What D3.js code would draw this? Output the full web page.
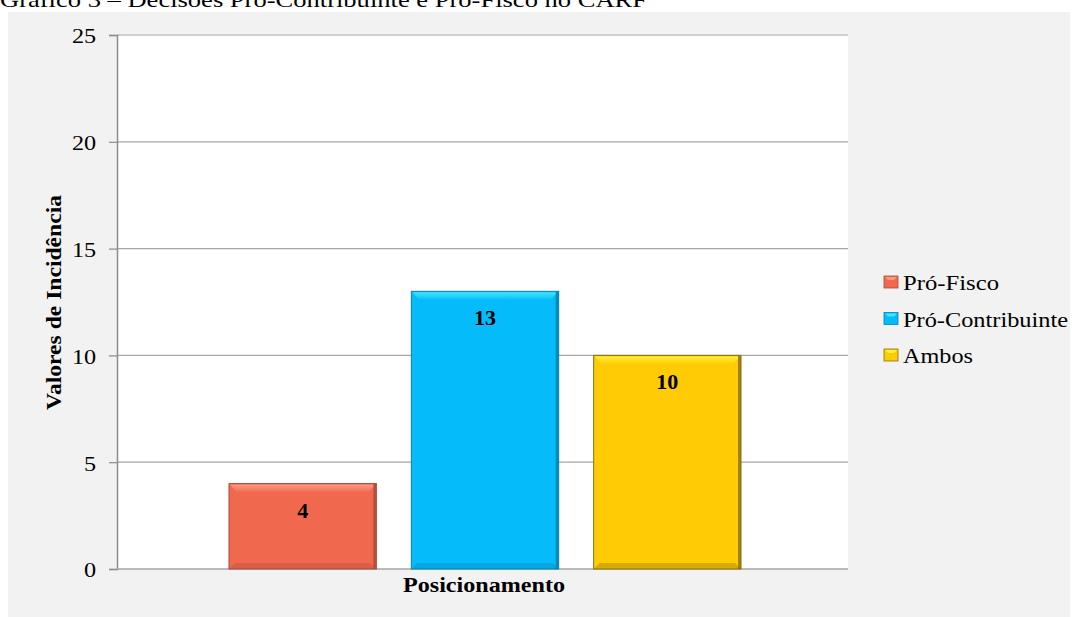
<!DOCTYPE html>
<html>
<head>
<meta charset="utf-8">
<script src="https://cdn.jsdelivr.net/npm/d3@7"></script>
<style>
  body { margin: 0; background: #fff; }
  svg { display: block; }
  svg text { font-family: "Liberation Serif", "Times New Roman", serif; }
</style>
</head>
<body>
<svg id="chart" width="1074" height="617"></svg>
<script>

var categories = ["Pró-Fisco", "Pró-Contribuinte", "Ambos"];
var values = [4, 13, 10];
var yTicks = [0, 5, 10, 15, 20, 25];
var colors = ["#f0694f", "#05bbf9", "#fecb05"];
var lightColors = ["#f99a83", "#3ee6ff", "#fff23a"];
var darkColors = ["#a84a38", "#0383ae", "#8d6f05"];

var SERIF = "Liberation Serif";
var chart = {};

function setup() {
    chart.svg = d3.select("#chart");
    chart.margin = {top: 35, left: 117};
    chart.width = 848 - 117;
    chart.height = 569 - 35;

    // background panel
    chart.svg.append("rect")
        .attr("x", 8).attr("y", 12)
        .attr("width", 1062).attr("height", 605)
        .attr("fill", "#f2f2f2");

    // title (cut at top in reference)
    chart.svg.append("text")
        .attr("x", 0).attr("y", 7)
        .attr("font-family", SERIF)
        .attr("font-size", 22)
        .attr("textLength", 647).attr("lengthAdjust", "spacingAndGlyphs")
        .attr("fill", "#000")
        .text("Gráfico 3 – Decisões Pró-Contribuinte e Pró-Fisco no CARF");

    var g = chart.svg.append("g")
        .attr("transform", `translate(${chart.margin.left},${chart.margin.top})`);

    g.append("rect")
        .attr("width", chart.width).attr("height", chart.height)
        .attr("fill", "#fff");

    chart.y = d3.scaleLinear().domain([0, 25]).range([chart.height, 0]);
    chart.x = d3.scaleBand().domain(categories)
        .range([112, 624]).paddingInner(0.192).paddingOuter(0);

    // gridlines
    g.append("g")
        .selectAll("line")
        .data(yTicks.filter(d => d > 0))
        .join("line")
        .attr("x1", 0).attr("x2", chart.width)
        .attr("y1", d => chart.y(d)).attr("y2", d => chart.y(d))
        .attr("stroke", "#a6a6a6").attr("stroke-width", 1.2);

    // y axis
    var yAxis = g.append("g")
        .call(d3.axisLeft(chart.y).tickValues(yTicks).tickSize(8).tickPadding(11));
    yAxis.select(".domain").attr("stroke", "#8c8c8c").attr("stroke-width", 1.5);
    yAxis.selectAll(".tick line").attr("stroke", "#8c8c8c").attr("stroke-width", 1.2);
    yAxis.selectAll("text")
        .attr("font-family", SERIF)
        .attr("font-size", 22)
        .attr("dy", "0.36em")
        .attr("transform", "scale(1.1,1)")
        .attr("fill", "#000");

    // bottom line
    g.append("line")
        .attr("x1", 0).attr("x2", chart.width)
        .attr("y1", chart.height).attr("y2", chart.height)
        .attr("stroke", "#a6a6a6").attr("stroke-width", 1.5);

    // gradients for the bevel look
    var defs = chart.svg.append("defs");
    categories.forEach((c, i) => {
        var lg = defs.append("linearGradient")
            .attr("id", "grad" + i)
            .attr("x1", 0).attr("y1", 0).attr("x2", 0).attr("y2", 1);
        lg.append("stop").attr("offset", "0%").attr("stop-color", lightColors[i]);
        lg.append("stop").attr("offset", "100%").attr("stop-color", colors[i]);
    });

    var bars = g.append("g")
        .selectAll("g")
        .data(categories.map((c, i) => ({name: c, value: values[i], i: i})))
        .join("g")
        .attr("transform", d => `translate(${chart.x(d.name)},${chart.y(d.value)})`);

    var bw = chart.x.bandwidth();

    bars.append("rect")
        .attr("width", bw)
        .attr("height", d => chart.height - chart.y(d.value))
        .attr("fill", d => colors[d.i]);

    // top highlight strip with slanted ends
    bars.append("path")
        .attr("d", `M1,1 H${bw - 1} L${bw - 8},9 H8 Z`)
        .attr("fill", d => `url(#grad${d.i})`);

    // bottom shade
    bars.append("path")
        .attr("d", d => {
            var h = chart.height - chart.y(d.value);
            return `M0,${h} H${bw} L${bw - 6},${h - 6} H6 Z`;
        })
        .attr("fill", d => darkColors[d.i]).attr("opacity", 0.35);

    // right edge
    bars.append("rect")
        .attr("x", bw - 3).attr("y", 0)
        .attr("width", 3)
        .attr("height", d => chart.height - chart.y(d.value))
        .attr("fill", d => darkColors[d.i]).attr("opacity", 0.8);

    bars.append("rect")
        .attr("width", bw)
        .attr("height", d => chart.height - chart.y(d.value))
        .attr("fill", "none")
        .attr("stroke", d => darkColors[d.i]).attr("stroke-width", 1);

    // value labels
    bars.append("text")
        .attr("x", bw / 2).attr("y", 34)
        .attr("text-anchor", "middle")
        .attr("font-family", SERIF)
        .attr("font-size", 22).attr("font-weight", "bold")
        .text(d => d.value);

    // axis titles
    chart.svg.append("text")
        .attr("transform", "translate(61,302.5) rotate(-90)")
        .attr("text-anchor", "middle")
        .attr("font-family", SERIF)
        .attr("font-size", 21).attr("font-weight", "bold")
        .attr("textLength", 215).attr("lengthAdjust", "spacingAndGlyphs")
        .text("Valores de Incidência");

    chart.svg.append("text")
        .attr("x", 484).attr("y", 592)
        .attr("text-anchor", "middle")
        .attr("font-family", SERIF)
        .attr("font-size", 21).attr("font-weight", "bold")
        .attr("textLength", 162).attr("lengthAdjust", "spacingAndGlyphs")
        .text("Posicionamento");

    // legend
    var legendWidths = [96, 165, 70];
    var legend = chart.svg.append("g")
        .selectAll("g")
        .data(categories)
        .join("g")
        .attr("transform", (d, i) => `translate(884,${290 + i * 36.5})`);

    legend.append("rect")
        .attr("x", 0).attr("y", -14)
        .attr("width", 14).attr("height", 12)
        .attr("fill", (d, i) => colors[i])
        .attr("stroke", (d, i) => darkColors[i]).attr("stroke-width", 0.8);

    legend.append("path")
        .attr("d", "M1,-13 H13 L10,-10 H4 Z")
        .attr("fill", (d, i) => lightColors[i]);

    legend.append("text")
        .attr("x", 19).attr("y", 0)
        .attr("font-family", SERIF)
        .attr("font-size", 22)
        .attr("textLength", (d, i) => legendWidths[i]).attr("lengthAdjust", "spacingAndGlyphs")
        .text(d => d);
}

window.addEventListener("load", setup);
</script>
</body>
</html>
